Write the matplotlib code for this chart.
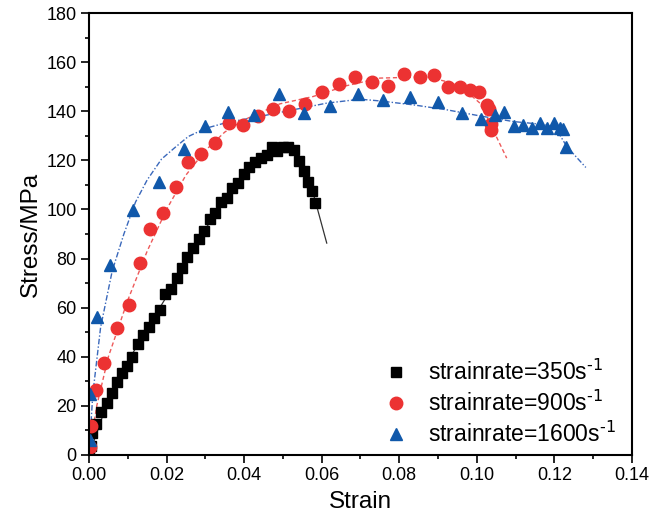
import matplotlib
matplotlib.use("Agg")
import matplotlib.pyplot as plt
from matplotlib.ticker import MultipleLocator

plt.rcParams["font.family"] = ["Liberation Sans", "DejaVu Sans"]
plt.rcParams["mathtext.default"] = "regular"

# strain rate 350 s^-1 (black squares)
strain_350 = [0.0001, 0.0004, 0.0009, 0.0018, 0.0032, 0.0046, 0.0059, 0.0071, 0.0084,
              0.0097, 0.0110, 0.0126, 0.0140, 0.0154, 0.0168, 0.0183, 0.0197, 0.0211,
              0.0226, 0.0240, 0.0254, 0.0269, 0.0283, 0.0296, 0.0311, 0.0326, 0.0340,
              0.0357, 0.0370, 0.0385, 0.0400, 0.0413, 0.0429, 0.0443, 0.0458, 0.0471,
              0.0485, 0.0501, 0.0514, 0.0528, 0.0541, 0.0554, 0.0564, 0.0576, 0.0584]
stress_350 = [1.2, 3.5, 8.8, 12.6, 17.5, 21.3, 25.1, 29.9, 33.3,
              36.4, 40.1, 45.1, 48.9, 52.3, 55.7, 59.1, 65.5, 67.6,
              72.2, 76.1, 80.6, 84.2, 87.9, 91.3, 96.0, 98.7, 103.2,
              104.7, 108.7, 110.7, 114.4, 117.1, 119.5, 120.9, 122.2, 125.6,
              124.0, 125.4, 125.4, 124.3, 119.8, 115.8, 111.0, 107.6, 102.8]
fit_strain_350 = [0.0, 0.005, 0.01, 0.015, 0.02, 0.025, 0.03, 0.035, 0.04, 0.045,
                  0.049, 0.052, 0.055, 0.058, 0.0613]
fit_stress_350 = [0.0, 22.5, 38.0, 51.5, 64.5, 79.0, 92.0, 104.0, 114.0, 121.0,
                  124.5, 124.0, 117.5, 105.5, 86.3]

# strain rate 900 s^-1 (red circles)
strain_900 = [0.0003, 0.0005, 0.0018, 0.0039, 0.0072, 0.0102, 0.0131, 0.0158, 0.0192,
              0.0224, 0.0256, 0.0289, 0.0325, 0.0361, 0.0396, 0.0435, 0.0474, 0.0515,
              0.0557, 0.0600, 0.0644, 0.0686, 0.0729, 0.0772, 0.0813, 0.0853, 0.0890,
              0.0925, 0.0956, 0.0982, 0.1006, 0.1025, 0.1032, 0.1036, 0.1036]
stress_900 = [3.4, 11.9, 26.5, 37.6, 51.9, 61.1, 78.1, 92.0, 98.5,
              109.1, 119.3, 122.5, 127.0, 135.4, 134.2, 138.0, 140.9, 140.1,
              143.0, 147.8, 151.2, 153.9, 152.1, 150.1, 155.1, 153.9, 154.6,
              149.8, 149.8, 148.6, 147.9, 142.6, 140.9, 134.9, 132.3]
fit_strain_900 = [0.0, 0.002, 0.005, 0.01, 0.015, 0.02, 0.025, 0.03, 0.035, 0.04, 0.045,
                  0.0492, 0.0578, 0.0664, 0.075, 0.087, 0.0938, 0.0974, 0.1008,
                  0.1042, 0.1077]
fit_stress_900 = [0.0, 20.0, 40.0, 63.0, 83.0, 100.0, 114.0, 124.0, 131.5, 136.5, 140.0,
                  143.0, 146.0, 150.4, 153.5, 154.0, 151.5, 148.0, 143.3,
                  132.4, 120.9]

# strain rate 1600 s^-1 (blue triangles)
strain_1600 = [0.0003, 0.0003, 0.0020, 0.0054, 0.0114, 0.0181, 0.0245, 0.0299, 0.0359,
               0.0426, 0.0490, 0.0555, 0.0622, 0.0693, 0.0759, 0.0828, 0.0899, 0.0961,
               0.1011, 0.1047, 0.1071, 0.1096, 0.1120, 0.1143, 0.1163, 0.1180, 0.1199,
               0.1214, 0.1223, 0.1230]
stress_1600 = [6.1, 25.0, 56.4, 77.4, 99.6, 111.0, 124.7, 134.1, 139.5,
               138.3, 147.0, 139.1, 142.2, 147.0, 144.7, 146.0, 143.7, 139.2,
               136.8, 138.5, 139.6, 133.8, 134.2, 133.1, 135.4, 133.1, 135.4,
               133.1, 132.8, 125.4]
fit_strain_1600 = [0.0, 0.001, 0.003, 0.006, 0.009, 0.012, 0.015, 0.0187, 0.022, 0.0256,
                   0.03, 0.0355, 0.0441, 0.0527, 0.0613, 0.0699, 0.075, 0.0836, 0.0922,
                   0.1008, 0.1094, 0.118, 0.1206, 0.1232, 0.1281]
fit_stress_1600 = [0.0, 25.0, 52.0, 75.0, 90.0, 103.0, 112.0, 120.5, 125.0, 129.7,
                   133.0, 135.4, 137.9, 140.6, 143.3, 144.9, 144.2, 142.6, 140.6,
                   138.1, 135.8, 134.5, 132.4, 125.6, 117.1]

fig = plt.figure(figsize=(6.61, 5.21), dpi=100)
ax = fig.add_axes([0.1346, 0.1267, 0.8215, 0.8483])

# fitted curves
ax.plot(fit_strain_350, fit_stress_350, "-", color="#333333", lw=0.9)
ax.plot(fit_strain_900, fit_stress_900, "--", color="#ee5a5a", lw=1.0, dashes=(3, 2))
ax.plot(fit_strain_1600, fit_stress_1600, "-.", color="#3a68bb", lw=1.0,
        dashes=(4, 1.5, 1, 1.5))

# measured points
ax.plot(strain_350, stress_350, "s", color="black", ms=7, ls="none",
        label=r"strainrate=350s$^{\text{-1}}$")
ax.plot(strain_900, stress_900, "o", color="#ec3232", ms=9, ls="none",
        label=r"strainrate=900s$^{\text{-1}}$")
ax.plot(strain_1600, stress_1600, "^", color="#1058aa", ms=9, ls="none",
        label=r"strainrate=1600s$^{\text{-1}}$")

ax.set_xlim(0, 0.14)
ax.set_ylim(0, 180)
ax.xaxis.set_major_locator(MultipleLocator(0.02))
ax.xaxis.set_minor_locator(MultipleLocator(0.01))
ax.yaxis.set_major_locator(MultipleLocator(20))
ax.yaxis.set_minor_locator(MultipleLocator(10))
ax.xaxis.set_major_formatter(matplotlib.ticker.FormatStrFormatter("%.2f"))

ax.tick_params(which="major", direction="out", length=5.5, width=1.2,
               labelsize=13, pad=3.5)
ax.tick_params(which="minor", direction="out", length=3, width=1.2)
ax.tick_params(top=False, right=False, which="both")
for sp in ax.spines.values():
    sp.set_linewidth(1.5)

ax.set_xlabel("Strain", fontsize=17.5, labelpad=5)
ax.set_ylabel("Stress/MPa", fontsize=17.5, labelpad=3)

ax.legend(loc="center left", bbox_to_anchor=(0.545, 0.117), frameon=False,
          fontsize=16.5, handlelength=1.0, handletextpad=0.9, borderpad=0,
          borderaxespad=0, labelspacing=0.25)

fig.savefig("out.png", dpi=100)
